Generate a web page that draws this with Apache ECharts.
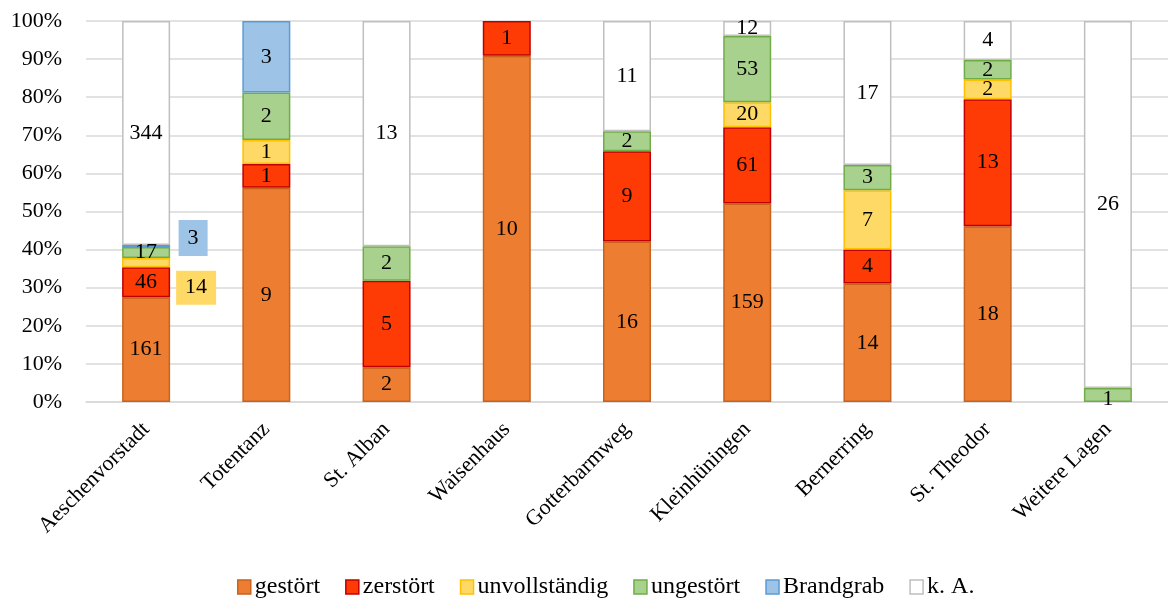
<!DOCTYPE html>
<html><head><meta charset="utf-8">
<script src="https://cdn.jsdelivr.net/npm/echarts@6/dist/echarts.min.js"></script>
<style>html,body{margin:0;padding:0;background:#fff}#c{width:1168px;height:598px}</style>
</head><body><div id="c"></div>
<script>
const categories = ['Aeschenvorstadt','Totentanz','St. Alban','Waisenhaus','Gotterbarmweg','Kleinhüningen','Bernerring','St. Theodor','Weitere Lagen'];
const gestoert      = [161, 9, 2, 10, 16, 159, 14, 18, 0];
const zerstoert     = [46, 1, 5, 1, 9, 61, 4, 13, 0];
const unvollstaendig= [14, 1, 0, 0, 0, 20, 7, 2, 0];
const ungestoert    = [17, 2, 2, 0, 2, 53, 3, 2, 1];
const brandgrab     = [3, 3, 0, 0, 0, 0, 0, 0, 0];
const kA            = [344, 0, 13, 0, 11, 12, 17, 4, 26];
const yTicks = ['0%','10%','20%','30%','40%','50%','60%','70%','80%','90%','100%'];

const names = ['gestört','zerstört','unvollständig','ungestört','Brandgrab','k. A.'];
const raw = [gestoert, zerstoert, unvollstaendig, ungestoert, brandgrab, kA];
const fills = ['#ED7D31','#FF3B05','#FFD966','#A9D18E','#9DC3E6','#FFFFFF'];
const borders = ['#C8621E','#C00000','#FFC000','#70AD47','#5B9BD5','#BFBFBF'];
const totals = categories.map((_, i) => raw.reduce((s, a) => s + a[i], 0));
const FONT = '"Liberation Serif","Times New Roman",serif';
const FS = 22;

const series = raw.map((arr, si) => ({
  name: names[si], type: 'bar', stack: 'all', barWidth: 48,
  itemStyle: { color: fills[si], borderColor: borders[si], borderWidth: 1.5 },
  label: { show: true, position: 'inside', color: '#000', fontFamily: FONT, fontSize: FS,
    formatter: p => arr[p.dataIndex] ? String(arr[p.dataIndex]) : '' },
  data: arr.map((v, i) => {
    const d = { value: v ? v / totals[i] * 100 : null };
    if (i === 0 && si === 2) d.label = { offset: [50, 25], backgroundColor: '#FFD966', padding: [7, 9, 5, 9] };
    if (i === 0 && si === 4) d.label = { offset: [47, -8], backgroundColor: '#9DC3E6', padding: [8, 9, 6, 9] };
    if (i === 8 && si === 3) d.label = { offset: [0, 4] };
    return d;
  })
}));

const chart = echarts.init(document.getElementById('c'));
chart.setOption({
  animation: false,
  textStyle: { fontFamily: FONT },
  grid: { left: 86, right: 0, top: 21, bottom: 196 },
  legend: { bottom: -6, left: 232, itemWidth: 13, itemHeight: 14, itemGap: 25,
    textStyle: { fontFamily: FONT, fontSize: 24, color: '#000', padding: [0,0,0,-1] },
    data: names.map((n, i) => ({ name: n, icon: 'rect', itemStyle: { color: fills[i], borderColor: borders[i], borderWidth: 1.5 } })) },
  xAxis: { type: 'category', data: categories,
    axisLine: { lineStyle: { color: '#D9D9D9', width: 1.5 } }, axisTick: { show: false },
    axisLabel: { rotate: 45, interval: 0, fontFamily: FONT, fontSize: FS, color: '#000', margin: 24 } },
  yAxis: { type: 'value', min: 0, max: 100, interval: 10,
    axisLine: { show: false }, axisTick: { show: false },
    splitLine: { lineStyle: { color: '#D9D9D9', width: 1.5 } },
    axisLabel: { fontFamily: FONT, fontSize: FS, color: '#000', margin: 24,
      formatter: v => yTicks[Math.round(v / 10)] } },
  series
});
</script></body></html>
